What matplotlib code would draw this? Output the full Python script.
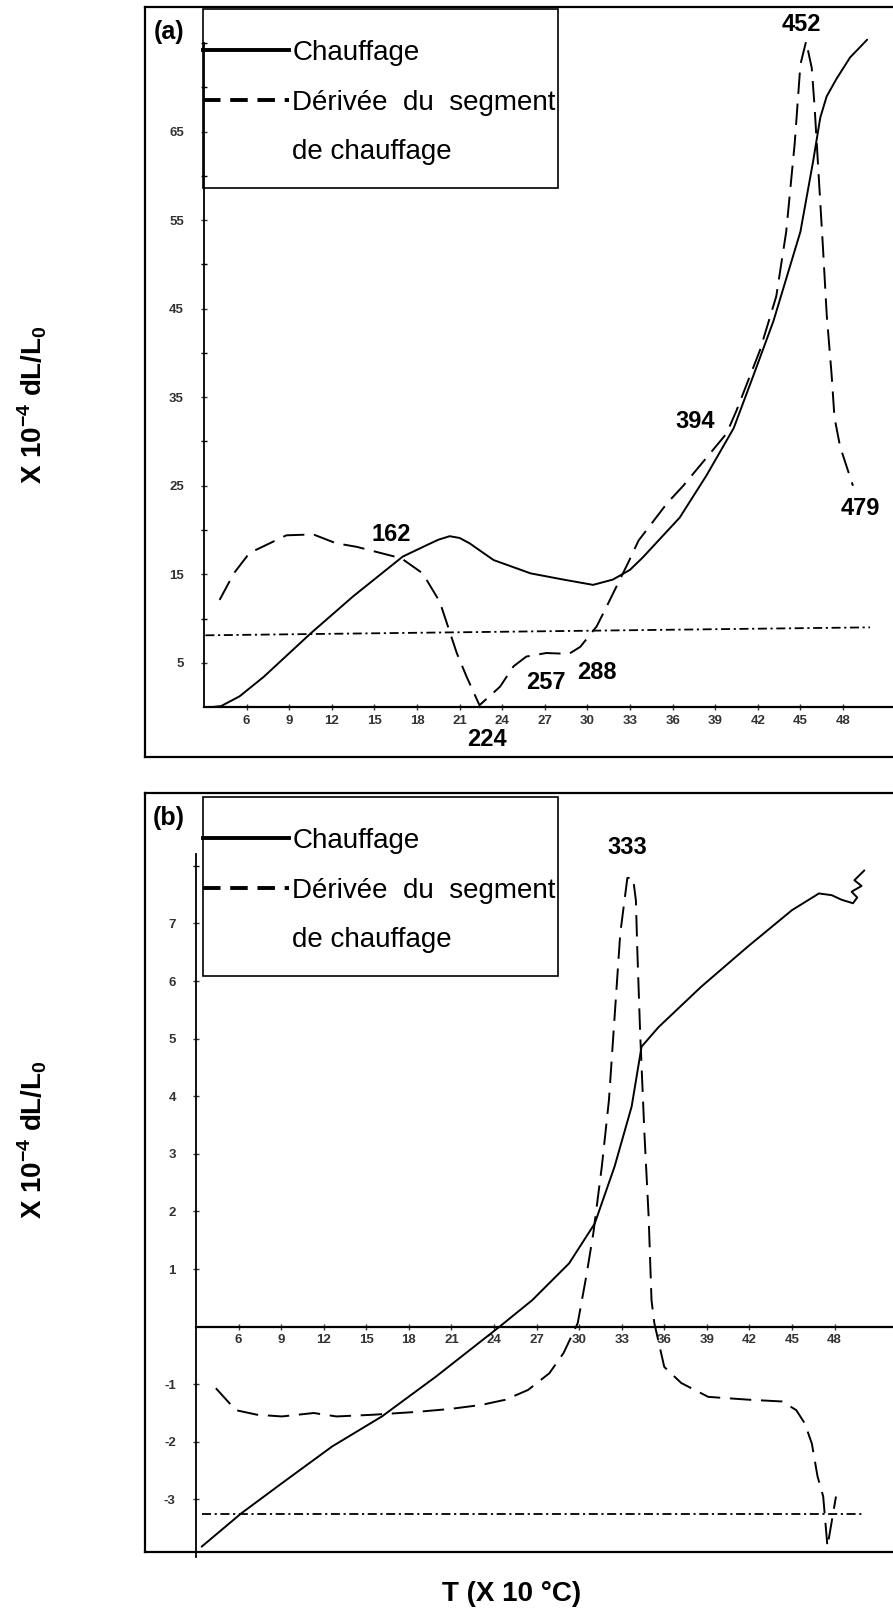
import matplotlib
matplotlib.use("Agg")
import matplotlib.pyplot as plt
from matplotlib.lines import Line2D
from matplotlib.patches import Rectangle

plt.rcParams['font.family'] = ['Liberation Sans', 'DejaVu Sans']
plt.rcParams['mathtext.fontset'] = 'custom'
plt.rcParams['mathtext.rm'] = 'Liberation Sans'
plt.rcParams['mathtext.bf'] = 'Liberation Sans:bold'

# ---------------- data : panel (a) ----------------
a_heat_T = [3.6, 4.2, 5.5, 7.2, 10.5, 13.5, 17.0, 18.7, 19.5, 20.3, 21.0, 21.7,
            22.5, 23.4, 26.0, 28.3, 30.4, 31.8, 33.0, 33.9, 36.5, 38.4, 40.3,
            41.7, 43.1, 45.0, 45.9, 46.4, 46.85, 47.55, 48.5, 49.7]
a_heat_y = [0.0, 0.1, 1.2, 3.4, 8.3, 12.5, 17.0, 18.3, 18.9, 19.3, 19.1, 18.5,
            17.6, 16.6, 15.1, 14.4, 13.8, 14.4, 15.5, 16.9, 21.4, 26.2, 31.5,
            37.5, 43.6, 53.7, 61.7, 66.6, 69.0, 71.0, 73.4, 75.4]
a_der_T = [4.1, 5.1, 6.2, 8.8, 10.7, 12.3, 13.75, 16.9, 18.4, 19.6, 20.8, 21.5,
           22.4, 23.85, 24.8, 25.7, 27.1, 28.7, 29.5, 30.65, 31.4, 32.9, 33.6,
           35.6, 36.75, 39.8, 40.5, 42.15, 43.3, 44.0, 44.6, 45.0, 45.4, 45.8,
           46.0, 46.3, 46.6, 46.85, 47.2, 47.4, 47.8, 48.7]
a_der_y = [12.1, 15.1, 17.4, 19.4, 19.5, 18.5, 18.1, 16.8, 15.1, 11.9, 6.1, 3.4,
           0.2, 2.3, 4.6, 5.7, 6.1, 6.0, 6.8, 9.1, 11.5, 16.4, 18.8,
           23.0, 25.0, 30.9, 33.5, 40.3, 46.4, 53.7, 63.7, 72.6, 75.2, 72.2,
           67.8, 59.7, 51.6, 44.4, 37.5, 32.7, 29.4, 25.0]
a_ref_T = [3.1, 49.9]
a_ref_y = [8.1, 9.0]
a_labels = ["162", "224", "257", "288", "394", "452", "479"]
a_label_T = [16.2, 22.9, 27.1, 30.7, 37.6, 45.1, 49.2]
a_label_y = [19.5, -3.7, 2.8, 3.95, 32.3, 77.1, 22.4]
a_xticks = [6, 9, 12, 15, 18, 21, 24, 27, 30, 33, 36, 39, 42, 45, 48]
a_yticks = [5, 15, 25, 35, 45, 55, 65]
a_yminor = [10, 20, 30, 40, 50, 60, 70, 75]

# ---------------- data : panel (b) ----------------
b_heat_T = [3.4, 6.2, 9.05, 12.6, 16.1, 19.9, 24.4, 26.7, 29.3, 31.1, 32.5, 33.7,
            34.4, 35.6, 38.6, 41.9, 45.0, 46.9, 47.8, 48.5, 49.3, 49.6, 49.2,
            49.9, 49.4, 50.1]
b_heat_y = [-3.82, -3.24, -2.72, -2.08, -1.56, -0.87, 0.0, 0.46, 1.1, 1.79, 2.78,
            3.82, 4.86, 5.2, 5.9, 6.6, 7.23, 7.52, 7.49, 7.41, 7.35, 7.45, 7.55,
            7.65, 7.75, 7.92]
b_der_T = [4.4, 5.8, 7.3, 9.05, 11.3, 12.9, 15.5, 18.6, 20.9, 23.1, 24.8, 26.4,
           27.9, 28.9, 29.9, 30.5, 31.0, 31.6, 32.1, 32.5, 32.9, 33.4, 33.8, 34.0,
           34.1, 34.3, 34.6, 34.9, 35.1, 35.3, 36.0, 37.2, 39.1, 42.0, 44.3, 45.3,
           45.9, 46.4, 46.8, 47.2, 47.5, 48.1]
b_der_y = [-1.07, -1.45, -1.53, -1.56, -1.5, -1.56, -1.53, -1.48, -1.43, -1.36,
           -1.27, -1.1, -0.81, -0.46, 0.06, 0.87, 1.62, 2.78, 3.93, 5.38, 6.83,
           7.79, 7.79, 7.4, 6.54, 5.1, 3.36, 1.9, 0.46, 0.06, -0.7, -0.98, -1.22,
           -1.27, -1.3, -1.45, -1.68, -2.03, -2.6, -2.95, -3.82, -2.95]
b_ref_T = [3.4, 50.1]
b_ref_y = [-3.26, -3.26]
b_labels = ["333"]
b_label_T = [33.4]
b_label_y = [8.31]
b_xticks = [6, 9, 12, 15, 18, 21, 24, 27, 30, 33, 36, 39, 42, 45, 48]
b_yticks = [-3, -2, -1, 1, 2, 3, 4, 5, 6, 7]
b_yminor = [8]

legend_labels = ["Chauffage", "Dérivée  du  segment", "de chauffage"]

# ---------------- figure ----------------
W, H = 893, 1618
fig = plt.figure(figsize=(W / 100, H / 100), dpi=100)


def fx(px):
    return px / W


def fy(py):
    return 1 - py / H


DER_DASH = (11, 5)
REF_DASH = (5, 2, 1.2, 2)


def panel(box_top, box_bot, box_left, yaxis_px, xlim, ylim, spine_bounds,
          heat_T, heat_y, der_T, der_y, ref_T, ref_y,
          lab, lab_T, lab_y, xt, yt, ymin, tag, leg_top):
    # outer frame
    axb = fig.add_axes([fx(box_left), fy(box_bot), 1.0, (box_bot - box_top) / H])
    axb.set_xticks([])
    axb.set_yticks([])
    for s in axb.spines.values():
        s.set_linewidth(1.6)
    axb.set_zorder(0)

    ax = fig.add_axes([fx(yaxis_px), fy(box_bot), (W - yaxis_px) / W,
                       (box_bot - box_top) / H])
    ax.set_zorder(1)
    ax.patch.set_alpha(0)
    ax.set_xlim(*xlim)
    ax.set_ylim(*ylim)
    ax.spines['top'].set_visible(False)
    ax.spines['right'].set_visible(False)
    ax.spines['bottom'].set_position(('data', 0))
    ax.spines['left'].set_bounds(*spine_bounds)
    ax.spines['left'].set_linewidth(1.3)
    ax.spines['bottom'].set_linewidth(1.6)

    ax.plot(heat_T, heat_y, color='black', lw=1.4, solid_joinstyle='round',
            solid_capstyle='round')
    ax.plot(der_T, der_y, color='black', lw=1.4, dashes=DER_DASH)
    ax.plot(ref_T, ref_y, color='black', lw=1.3, dashes=REF_DASH)

    for t, x, y in zip(lab, lab_T, lab_y):
        ax.text(x, y, t, ha='center', va='center', fontsize=17,
                fontweight='bold')

    ax.set_xticks(xt)
    ax.set_xticklabels([str(v) for v in xt])
    ax.set_yticks(yt)
    ax.set_yticklabels([str(v) for v in yt])
    ax.set_yticks(ymin, minor=True)
    ax.tick_params(axis='x', direction='inout', length=5, width=1,
                   labelsize=9.5, pad=3, colors='#333333')
    ax.tick_params(axis='y', which='major', direction='inout', length=5,
                   width=1, labelsize=9.5, pad=12, colors='#333333')
    ax.tick_params(axis='y', which='minor', direction='inout', length=4,
                   width=1)
    for lbl in ax.get_xticklabels() + ax.get_yticklabels():
        lbl.set_fontweight('bold')

    fig.text(fx(169), fy(box_top + 25), tag, ha='center', va='center',
             fontsize=18, fontweight='bold')

    # legend
    handles = [Line2D([], [], color='black', lw=2.8),
               Line2D([], [], color='black', lw=2.8, dashes=(4.5, 2.5)),
               Line2D([], [], alpha=0)]
    ax.legend(handles, legend_labels, loc='upper left',
              bbox_to_anchor=(fx(203), fy(leg_top + 31)),
              bbox_transform=fig.transFigure, frameon=False, borderpad=0,
              borderaxespad=0, handlelength=3.1, handletextpad=0.12,
              labelspacing=0.85, fontsize=20)
    fig.add_artist(Rectangle((fx(203), fy(leg_top + 179)), (558 - 203) / W,
                             179 / H, transform=fig.transFigure, fill=False,
                             lw=1.2, edgecolor='black', zorder=3))
    return ax


panel(7, 757, 145, 204, (3.0, 3 + (W - 204) / 14.2),
      ((707 - 757) / 8.85, (707 - 7) / 8.85), (0, 75),
      a_heat_T, a_heat_y, a_der_T, a_der_y, a_ref_T, a_ref_y,
      a_labels, a_label_T, a_label_y, a_xticks, a_yticks, a_yminor, "(a)", 9)

panel(793, 1552, 145, 196, (3.0, 3 + (W - 196) / 14.19),
      ((1326.6 - 1552) / 57.6, (1326.6 - 793) / 57.6), (-4.0, 8.2),
      b_heat_T, b_heat_y, b_der_T, b_der_y, b_ref_T, b_ref_y,
      b_labels, b_label_T, b_label_y, b_xticks, b_yticks, b_yminor, "(b)", 797)

ylab = r'X 10$^{\mathbf{-4}}$ dL/L$_{\mathbf{0}}$'
fig.text(fx(32), fy(405), ylab, rotation=90, ha='center', va='center',
         fontsize=20, fontweight='bold')
fig.text(fx(32), fy(1140), ylab, rotation=90, ha='center', va='center',
         fontsize=20, fontweight='bold')
fig.text(fx(512), fy(1594), 'T (X 10 °C)', ha='center', va='center',
         fontsize=20, fontweight='bold')

fig.savefig('out.png', dpi=100)
